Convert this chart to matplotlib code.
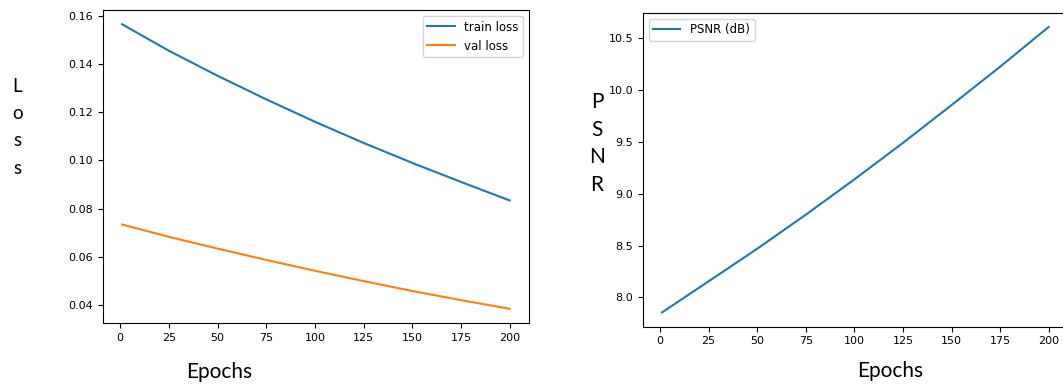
import matplotlib
matplotlib.use('Agg')
import matplotlib.pyplot as plt

# values
epochs = [1, 25, 50, 75, 100, 125, 150, 175, 200]
train_loss = [0.1566, 0.1456, 0.1352, 0.1254, 0.1161, 0.1073, 0.0990, 0.0911, 0.0834]
val_loss = [0.0734, 0.0683, 0.0634, 0.0587, 0.0542, 0.0499, 0.0458, 0.0420, 0.0384]
psnr = [7.856, 8.156, 8.470, 8.798, 9.138, 9.490, 9.854, 10.224, 10.607]

W, H = 1063, 388
fig = plt.figure(figsize=(W / 100, H / 100), dpi=100)
plt.rcParams['font.size'] = 8


def box(x0, y0, x1, y1):
    # pixel box (top-left origin) -> figure fraction rect
    return [x0 / W, (H - y1) / H, (x1 - x0) / W, (y1 - y0) / H]


ax1 = fig.add_axes(box(102.7, 10, 529, 323))
ax1.plot(epochs, train_loss, label='train loss')
ax1.plot(epochs, val_loss, label='val loss')
ax1.set_xticks([0, 25, 50, 75, 100, 125, 150, 175, 200])
ax1.set_yticks([0.04, 0.06, 0.08, 0.10, 0.12, 0.14, 0.16])
ax1.tick_params(labelsize=8)
ax1.legend(loc='upper right', fontsize=8.5, handlelength=2.3)

ax2 = fig.add_axes(box(642.7, 12.7, 1068, 326.7))
ax2.plot(epochs, psnr, label='PSNR (dB)')
ax2.set_xticks([0, 25, 50, 75, 100, 125, 150, 175, 200])
ax2.set_yticks([8.0, 8.5, 9.0, 9.5, 10.0, 10.5])
ax2.tick_params(labelsize=8)
ax2.legend(loc='upper left', fontsize=8.5, handlelength=2.3)

lab = dict(family=['Lato', 'DejaVu Sans'], color='black', ha='center', va='center')

# stacked axis titles, one letter per line
for i, ch in enumerate('Loss'):
    fig.text(17.5 / W, 1 - (86 + i * 27.4) / H, ch, fontsize=13.5, **lab)
for i, ch in enumerate('PSNR'):
    fig.text(597 / W, 1 - (102 + i * 27.7) / H, ch, fontsize=15, **lab)

fig.text(219 / W, 1 - 372 / H, 'Epochs', fontsize=15, **lab)
fig.text(890 / W, 1 - 371 / H, 'Epochs', fontsize=15, **lab)

fig.savefig('out.png', dpi=100)
